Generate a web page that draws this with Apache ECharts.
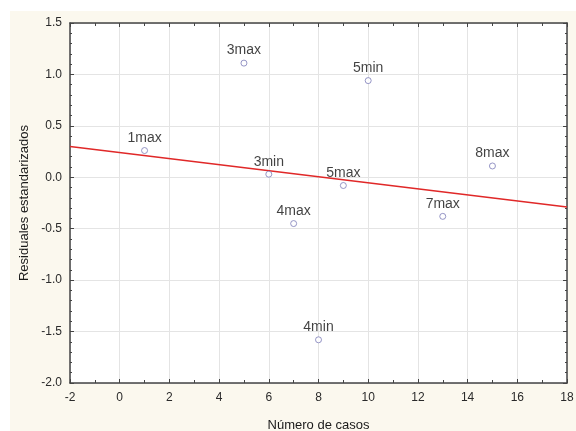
<!DOCTYPE html>
<html>
<head>
<meta charset="utf-8">
<script src="https://cdn.jsdelivr.net/npm/echarts@6/dist/echarts.min.js"></script>
<style>
html,body{margin:0;padding:0;background:#fff;}
#chart{width:576px;height:431px;}
</style>
</head>
<body>
<div id="chart"></div>
<script>
const caseLabels = ['1max','3max','3min','4max','4min','5max','5min','7max','8max'];
const caseX = [1, 5, 6, 7, 8, 9, 10, 13, 15];
const residuals = [0.26, 1.11, 0.03, -0.45, -1.58, -0.08, 0.94, -0.38, 0.11];
const fitX = [-2, 18];
const fitY = [0.30, -0.29];

const FONT = '"Liberation Sans", Arial, sans-serif';
const chart = echarts.init(document.getElementById('chart'), null, {renderer: 'canvas'});

const axisCommon = {
  axisLine: {show: true, onZero: false, lineStyle: {color: '#444', width: 1.5}},
  axisTick: {show: true, inside: true, length: 4, lineStyle: {color: '#444'}},
  splitLine: {show: false},
  axisLabel: {show: false}
};

chart.setOption({
  animation: false,
  backgroundColor: '#fff',
  graphic: [{
    type: 'rect', z: -10, silent: true,
    shape: {x: 10, y: 11, width: 566, height: 420},
    style: {fill: '#fbf8ee'}
  }, {
    type: 'rect', z: -9, silent: true,
    shape: {x: 70, y: 23, width: 497, height: 360},
    style: {fill: '#ffffff'}
  }],
  grid: {left: 70, top: 23, right: 9, bottom: 48, containLabel: false, outerBoundsMode: 'none'},
  xAxis: [{
    type: 'value', min: -2, max: 18, interval: 2,
    name: 'Número de casos', nameLocation: 'middle', nameGap: 36,
    nameTextStyle: {fontFamily: FONT, fontSize: 13, color: '#1a1a1a'},
    axisLine: {show: true, onZero: false, lineStyle: {color: '#444', width: 1.5}},
    axisTick: {show: true, inside: true, length: 4, lineStyle: {color: '#444'}},
    minorTick: {show: true, splitNumber: 2, length: 3, lineStyle: {color: '#444'}},
    splitLine: {show: true, lineStyle: {color: '#e4e4e4', width: 1}},
    axisLabel: {fontFamily: FONT, fontSize: 12, color: '#2a2a2a', margin: 9}
  }, Object.assign({}, axisCommon, {
    type: 'value', min: -2, max: 18, interval: 2, position: 'top',
    minorTick: {show: true, splitNumber: 2, length: 3, lineStyle: {color: '#444'}}
  })],
  yAxis: [{
    type: 'value', min: -2, max: 1.5, interval: 0.5,
    name: 'Residuales estandarizados', nameLocation: 'middle', nameGap: 33,
    nameTextStyle: {fontFamily: FONT, fontSize: 13, color: '#1a1a1a'},
    axisLine: {show: true, onZero: false, lineStyle: {color: '#444', width: 1.5}},
    axisTick: {show: true, inside: true, length: 4, lineStyle: {color: '#444'}},
    minorTick: {show: true, splitNumber: 5, length: 2, lineStyle: {color: '#444'}},
    splitLine: {show: true, lineStyle: {color: '#e4e4e4', width: 1}},
    axisLabel: {fontFamily: FONT, fontSize: 12, color: '#2a2a2a', margin: 8,
      formatter: v => v.toFixed(1)}
  }, Object.assign({}, axisCommon, {
    type: 'value', min: -2, max: 1.5, interval: 0.5, position: 'right',
    minorTick: {show: true, splitNumber: 5, length: 2, lineStyle: {color: '#444'}}
  })],
  series: [{
    type: 'line',
    data: fitX.map((x, i) => [x, fitY[i]]),
    symbol: 'none',
    lineStyle: {color: '#e02828', width: 1.5},
    z: 2
  }, {
    type: 'scatter',
    data: caseX.map((x, i) => ({value: [x, residuals[i]], name: caseLabels[i]})),
    symbol: 'circle', symbolSize: 6,
    itemStyle: {color: '#ffffff', borderColor: '#7c7cb8', borderWidth: 1},
    label: {show: true, position: 'top', distance: 2, formatter: p => p.name,
      fontFamily: FONT, fontSize: 14, color: '#111'},
    z: 3
  }]
});
</script>
</body>
</html>
